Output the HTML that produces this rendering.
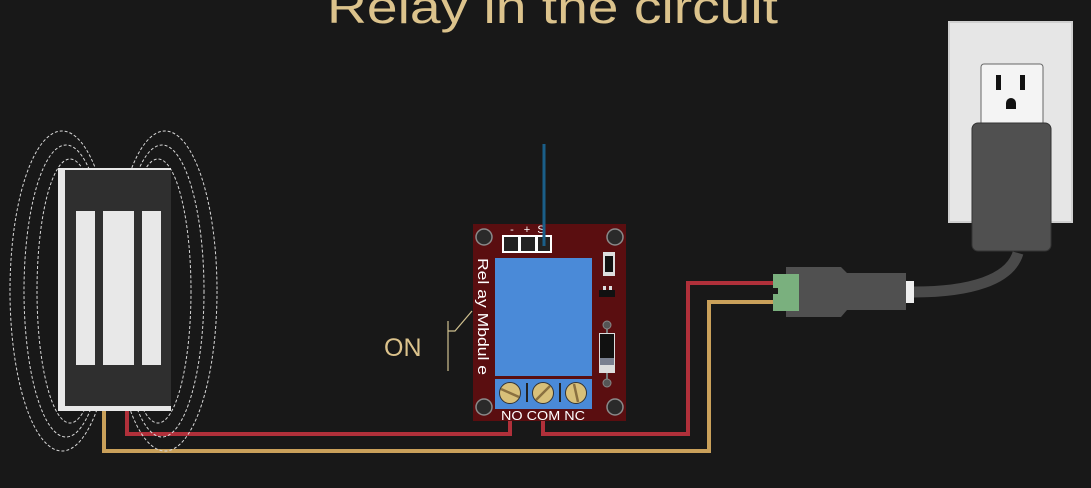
<!DOCTYPE html>
<html><head><style>html,body{margin:0;padding:0;background:#181818;overflow:hidden}</style></head>
<body>
<svg width="1091" height="488" viewBox="0 0 1091 488" xmlns="http://www.w3.org/2000/svg" style="display:block">
<rect width="1091" height="488" fill="#181818"/>
<text x="327" y="23" textLength="451" lengthAdjust="spacingAndGlyphs" font-family="Liberation Sans, sans-serif" font-size="46" fill="#dcc38c">Relay in the circuit</text>

<!-- wires -->
<g fill="none" stroke-width="4">
<polyline points="104,408 104,451 709,451 709,302 780,302" stroke="#c9a05a"/>
<polyline points="127,408 127,434 510,434 510,405" stroke="#b0303a"/>
<polyline points="543,405 543,434 688,434 688,283 780,283" stroke="#b0303a"/>
</g>

<!-- magnet field lines -->
<g fill="none" stroke="#d8d8d8" stroke-width="1" stroke-dasharray="3,2">
<ellipse cx="62" cy="291" rx="52" ry="160"/>
<ellipse cx="66" cy="291" rx="42" ry="146"/>
<ellipse cx="70" cy="291" rx="33" ry="132"/>
<ellipse cx="165" cy="291" rx="52" ry="160"/>
<ellipse cx="162" cy="291" rx="42" ry="146"/>
<ellipse cx="158" cy="291" rx="33" ry="132"/>
</g>
<!-- magnet -->
<rect x="58" y="168" width="113" height="243" fill="#e8e8e8"/>
<rect x="65" y="170" width="106" height="236" fill="#2f2f2f"/>
<rect x="76" y="211" width="19" height="154" fill="#e8e8e8"/>
<rect x="103" y="211" width="31" height="154" fill="#e8e8e8"/>
<rect x="142" y="211" width="19" height="154" fill="#e8e8e8"/>

<!-- ON switch -->
<text x="384" y="356" font-family="Liberation Sans, sans-serif" font-size="25" fill="#dcc38c">ON</text>
<g stroke="#cfc08f" stroke-width="1.2" fill="none">
<line x1="448" y1="321" x2="448" y2="371"/>
<polyline points="448,331 455,331 472,311"/>
</g>

<!-- relay board -->
<rect x="473" y="224" width="153" height="197" fill="#5a0e10"/>
<g fill="#2a2a2a" stroke="#8a8a8a" stroke-width="1.5">
<circle cx="484" cy="237" r="8"/><circle cx="615" cy="237" r="8"/>
<circle cx="484" cy="407" r="8"/><circle cx="615" cy="407" r="8"/>
</g>
<rect x="502" y="235" width="50" height="18" fill="#fff"/>
<rect x="504" y="237" width="14" height="14" fill="#222"/>
<rect x="521" y="237" width="14" height="14" fill="#222"/>
<rect x="538" y="237" width="12" height="14" fill="#222"/>
<g font-family="Liberation Sans, sans-serif" font-size="11" fill="#fff" text-anchor="middle">
<text x="512" y="233">-</text><text x="527" y="233">+</text><text x="541" y="233">S</text></g>
<rect x="495" y="258" width="97" height="118" fill="#4a8ad8"/>
<rect x="495" y="379" width="97" height="30" fill="#4a8ad8"/>
<g stroke="#222" stroke-width="2"><line x1="527" y1="383" x2="527" y2="402"/><line x1="560" y1="383" x2="560" y2="402"/></g>
<g fill="#d8c07a" stroke="#333" stroke-width="1">
<circle cx="510" cy="393" r="10.5"/><circle cx="543" cy="393" r="10.5"/><circle cx="576" cy="393" r="10.5"/></g>
<g stroke="#8a7040" stroke-width="2.5">
<line x1="501" y1="389" x2="519" y2="397"/><line x1="536" y1="400" x2="550" y2="386"/><line x1="574" y1="384" x2="578" y2="402"/></g>
<text x="501" y="420" textLength="84" lengthAdjust="spacingAndGlyphs" font-family="Liberation Sans, sans-serif" font-size="13" fill="#fff">NO COM NC</text>
<text transform="translate(478,258) rotate(90)" textLength="117" lengthAdjust="spacingAndGlyphs" font-family="Liberation Sans, sans-serif" font-size="15" fill="#fff">Rel ay  Mbdul e</text>
<rect x="603" y="252" width="12" height="24" fill="#ddd"/><rect x="605" y="256" width="8" height="16" fill="#111"/>
<rect x="599" y="290" width="16" height="7" fill="#111"/>
<rect x="603" y="286" width="3" height="4" fill="#ddd"/><rect x="609" y="286" width="3" height="4" fill="#ddd"/>
<line x1="607" y1="325" x2="607" y2="385" stroke="#777" stroke-width="2"/>
<circle cx="607" cy="325" r="4" fill="#555" stroke="#888"/><circle cx="607" cy="383" r="4" fill="#555" stroke="#888"/>
<rect x="599" y="333" width="16" height="40" fill="#ddd"/>
<rect x="600" y="334" width="14" height="24" fill="#111"/><rect x="600" y="358" width="14" height="7" fill="#7a8090"/>
<line x1="544" y1="144" x2="544" y2="246" stroke="#1a5e88" stroke-width="3"/>

<!-- outlet -->
<rect x="949" y="22" width="123" height="200" fill="#e6e6e6" stroke="#cfcfcf" stroke-width="2"/>
<rect x="981" y="64" width="62" height="70" rx="3" fill="#f4f4f4" stroke="#666" stroke-width="1"/>
<rect x="996" y="75" width="5" height="15" fill="#111"/><rect x="1020" y="75" width="5" height="15" fill="#111"/>
<path d="M1006,109 v-6 a5,5 0 0 1 10,0 v6 z" fill="#111"/>
<path d="M1018,253 C1010,280 970,292 914,292" stroke="#4a4a4a" stroke-width="11" fill="none"/>
<rect x="972" y="123" width="79" height="128" rx="6" fill="#505050" stroke="#333" stroke-width="1"/>

<!-- connector -->
<rect x="905" y="281" width="9" height="22" fill="#eee"/>
<path d="M786,267 H841 L847,273 H906 V310 H847 L841,317 H786 Z" fill="#505050"/>
<rect x="773" y="274" width="26" height="37" fill="#7ab07e"/>
<rect x="773" y="288" width="5" height="6" fill="#181818"/>
</svg>
</body></html>
